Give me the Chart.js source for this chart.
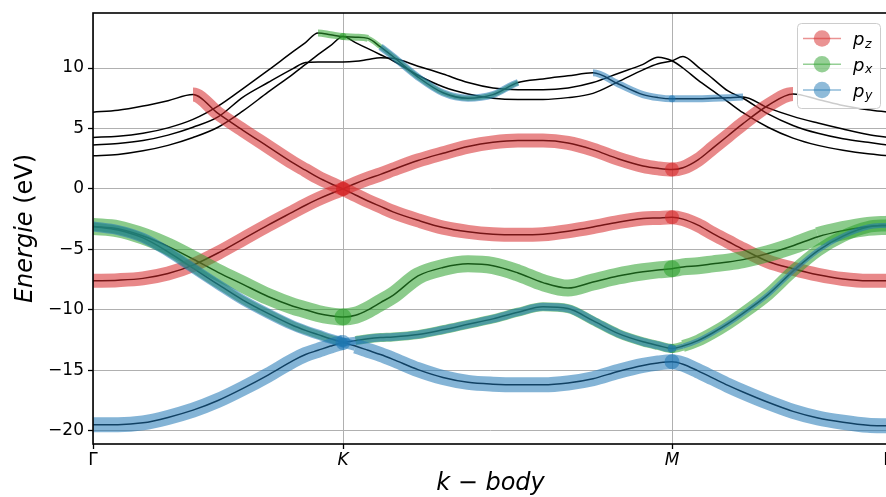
<!DOCTYPE html>
<html>
<head>
<meta charset="utf-8">
<script src="https://cdn.jsdelivr.net/npm/chart.js@4.4.0/dist/chart.umd.min.js"></script>
<style>
    html, body { margin: 0; padding: 0; background: #fff; overflow: hidden; }
    #wrap { width: 886px; height: 497px; overflow: hidden; }
    canvas { display: block; }
</style>
</head>
<body>
<div id="wrap"><canvas id="bands" width="892" height="497"></canvas></div>
<script>
// k-path (Γ-K = 1), one shared grid for all bands
const kPath = [0, 0.1, 0.2, 0.3, 0.4, 0.5, 0.6, 0.7, 0.8, 0.85, 0.9, 0.95, 1.0,
    1.05, 1.1, 1.15, 1.2, 1.3, 1.4, 1.5, 1.6, 1.7, 1.8, 1.9, 2.0, 2.1, 2.2, 2.26, 2.316,
    2.36, 2.42, 2.48, 2.54, 2.6, 2.7, 2.8, 2.9, 3.0, 3.1, 3.18];
const kTicks = [0, 1.0, 2.316, 3.18];
const kLabels = ['Γ', 'K', 'M', 'Γ'];
const energyTicks = [-20, -15, -10, -5, 0, 5, 10];

// band energies (eV)
const eRedLow = [-7.6, -7.55, -7.4, -7.0, -6.3, -5.3, -4.15, -3.0, -1.9, -1.35, -0.85, -0.4, 0,
    0.45, 0.85, 1.2, 1.6, 2.35, 2.95, 3.5, 3.85, 4.0, 4.0, 3.8, 3.25, 2.5, 1.9, 1.7, 1.6,
    1.75, 2.4, 3.4, 4.4, 5.4, 6.9, 7.85, 7.4, 6.9, 6.55, 6.35];
const eRedUp = [6.35, 6.5, 6.85, 7.3, 7.8, 6.25, 4.85, 3.5, 2.15, 1.55, 0.95, 0.45, 0,
    -0.5, -1.0, -1.45, -1.9, -2.6, -3.2, -3.55, -3.75, -3.8, -3.75, -3.5, -3.15, -2.75, -2.45, -2.4, -2.35,
    -2.5, -3.0, -3.7, -4.35, -5.0, -6.0, -6.6, -7.1, -7.45, -7.6, -7.6];
const eGreen = [-3.1, -3.3, -3.9, -4.75, -5.8, -6.9, -7.9, -8.9, -9.7, -10.0, -10.3, -10.5, -10.6,
    -10.45, -10.0, -9.4, -8.8, -7.2, -6.5, -6.2, -6.35, -6.95, -7.75, -8.2, -7.7, -7.2, -6.85, -6.7, -6.6,
    -6.45, -6.35, -6.2, -6.05, -5.85, -5.35, -4.7, -3.95, -3.45, -3.1, -3.0];
const eLow1 = [-19.5, -19.5, -19.35, -18.9, -18.3, -17.5, -16.5, -15.4, -14.2, -13.7, -13.35, -13.0, -12.7,
    -12.55, -12.4, -12.3, -12.25, -12.05, -11.65, -11.2, -10.75, -10.2, -9.75, -9.9, -10.9, -11.95, -12.65, -12.95, -13.2,
    -13.0, -12.55, -11.9, -11.15, -10.3, -8.75, -6.8, -5.1, -3.9, -3.15, -3.0];
const eLow2 = [-3.1, -3.4, -4.05, -5.2, -6.55, -7.9, -9.2, -10.3, -11.3, -11.7, -12.05, -12.4, -12.7,
    -13.0, -13.35, -13.7, -14.1, -14.95, -15.6, -16.0, -16.15, -16.2, -16.2, -16.05, -15.7, -15.1, -14.6, -14.4, -14.3,
    -14.5, -15.05, -15.65, -16.25, -16.8, -17.65, -18.4, -18.95, -19.3, -19.55, -19.6];
const eUp1 = [4.26, 4.35, 4.6, 5.05, 5.75, 6.85, 8.3, 9.8, 11.35, 12.1, 12.9, 12.75, 12.6,
    12.55, 12.45, 11.75, 10.95, 9.25, 7.95, 7.5, 7.8, 8.8, 9.1, 9.35, 9.6, 8.7, 7.8, 7.55, 7.45,
    7.45, 7.45, 7.5, 7.55, 7.6, 6.7, 6.0, 5.45, 4.95, 4.5, 4.26];
const eUp2 = [3.63, 3.75, 4.0, 4.45, 5.1, 5.95, 7.6, 8.8, 9.95, 10.45, 10.5, 10.5, 10.5,
    10.55, 10.7, 10.85, 10.8, 10.15, 9.5, 8.8, 8.35, 8.2, 8.2, 8.35, 8.8, 9.55, 10.3, 10.9, 10.6,
    10.0, 9.0, 8.1, 7.2, 6.3, 5.1, 4.2, 3.6, 3.2, 2.9, 2.74];
const eUp3 = [2.74, 2.85, 3.15, 3.6, 4.25, 5.1, 6.45, 8.0, 9.5, 10.3, 11.1, 11.85, 12.6,
    12.1, 11.6, 11.1, 10.6, 9.4, 8.45, 7.85, 7.5, 7.4, 7.4, 7.55, 7.9, 8.85, 9.85, 10.35, 10.6,
    10.95, 10.1, 9.1, 8.1, 7.5, 6.2, 5.25, 4.6, 4.15, 3.85, 3.63];

// orbital weights (0..1) per band
const wRedLowPz = [0.7, 0.7, 0.7, 0.7, 0.7, 0.7, 0.7, 0.7, 0.7, 0.7, 0.7, 0.7, 0.7,
    0.7, 0.7, 0.7, 0.7, 0.7, 0.7, 0.7, 0.7, 0.7, 0.7, 0.7, 0.7, 0.7, 0.7, 0.7, 0.7,
    0.7, 0.7, 0.7, 0.7, 0.7, 0.7, 0.7, 0, 0, 0, 0];
const wRedUpPz = [0, 0, 0, 0, 0.7, 0.7, 0.7, 0.7, 0.7, 0.7, 0.7, 0.7, 0.7,
    0.7, 0.7, 0.7, 0.7, 0.7, 0.7, 0.7, 0.7, 0.7, 0.7, 0.7, 0.7, 0.7, 0.7, 0.7, 0.7,
    0.7, 0.7, 0.7, 0.7, 0.7, 0.7, 0.7, 0.7, 0.7, 0.7, 0.7];
const wGreenPx = [0.85, 0.85, 0.85, 0.85, 0.85, 0.85, 0.85, 0.85, 0.85, 0.85, 0.85, 0.85, 0.85,
    0.85, 0.85, 0.85, 0.85, 0.85, 0.85, 0.85, 0.85, 0.85, 0.85, 0.85, 0.85, 0.85, 0.85, 0.85, 0.85,
    0.85, 0.85, 0.85, 0.85, 0.85, 0.85, 0.85, 0.95, 0.95, 0.95, 0.95];
const wLow1Px = [0, 0, 0, 0, 0, 0, 0, 0, 0, 0, 0, 0, 0,
    0.45, 0.45, 0.45, 0.45, 0.45, 0.45, 0.45, 0.45, 0.45, 0.45, 0.45, 0.45, 0.45, 0.45, 0.45, 0.45,
    0.6, 0.6, 0.6, 0.6, 0.6, 0.6, 0.6, 0.6, 0.6, 0.6, 0.6];
const wLow1Py = [0.75, 0.75, 0.75, 0.75, 0.75, 0.75, 0.75, 0.75, 0.75, 0.75, 0.75, 0.75, 0.75,
    0.4, 0.4, 0.4, 0.4, 0.4, 0.4, 0.4, 0.4, 0.4, 0.4, 0.4, 0.4, 0.4, 0.4, 0.4, 0.4,
    0.25, 0.25, 0.25, 0.25, 0.25, 0.25, 0.25, 0.25, 0.25, 0.25, 0.25];
const wLow2Px = [0.4, 0.4, 0.4, 0.4, 0.4, 0.4, 0.4, 0.4, 0.4, 0.4, 0.4, 0.4, 0.4,
    0, 0, 0, 0, 0, 0, 0, 0, 0, 0, 0, 0, 0, 0, 0, 0,
    0, 0, 0, 0, 0, 0, 0, 0, 0, 0, 0];
const wLow2Py = [0.5, 0.5, 0.5, 0.5, 0.5, 0.5, 0.5, 0.5, 0.5, 0.5, 0.5, 0.5, 0.5,
    0.75, 0.75, 0.75, 0.75, 0.75, 0.75, 0.75, 0.75, 0.75, 0.75, 0.75, 0.75, 0.75, 0.75, 0.75, 0.75,
    0.75, 0.75, 0.75, 0.75, 0.75, 0.75, 0.75, 0.75, 0.75, 0.75, 0.75];
const wUp1Px = [0, 0, 0, 0, 0, 0, 0, 0, 0, 0, 0.35, 0.35, 0.35,
    0.35, 0.35, 0.25, 0.25, 0.25, 0.25, 0.25, 0.25, 0.25, 0, 0, 0, 0, 0, 0, 0,
    0, 0, 0, 0, 0, 0, 0, 0, 0, 0, 0];
const wUp1Py = [0, 0, 0, 0, 0, 0, 0, 0, 0, 0, 0, 0, 0,
    0, 0, 0.35, 0.35, 0.35, 0.35, 0.35, 0.35, 0.35, 0, 0, 0.35, 0.35, 0.35, 0.35, 0.35,
    0.35, 0.35, 0.35, 0.35, 0.35, 0, 0, 0, 0, 0, 0];

const orbitalSubs = ['z', 'x', 'y'];

const FAT = 20; // px per unit weight
const RED = 'rgba(214, 39, 40, 0.55)';
const GREEN = 'rgba(44, 160, 44, 0.55)';
const BLUE = 'rgba(31, 119, 180, 0.55)';
const LEGEND_COLORS = ['rgba(214, 39, 40, 0.5)', 'rgba(44, 160, 44, 0.5)', 'rgba(31, 119, 180, 0.5)'];

const symIdx = [kPath.indexOf(kTicks[1]), kPath.indexOf(kTicks[2])];

function toPoints(energy) {
    return kPath.map((k, i) => ({ x: k, y: energy[i] }));
}

function bandLine(energy) {
    return {
        data: toPoints(energy),
        order: 10,
        borderColor: '#000',
        borderWidth: 1.5,
        pointRadius: 0,
        cubicInterpolationMode: 'monotone',
    };
}

// projected (fat) band: stroke width follows the orbital weight
function fatBand(energy, weight, color, order) {
    const segW = (ctx) => Math.min(weight[ctx.p0DataIndex], weight[ctx.p1DataIndex]);
    return {
        data: toPoints(energy),
        order: order,
        borderWidth: 1,
        borderColor: color,
        backgroundColor: color,
        cubicInterpolationMode: 'monotone',
        pointBorderWidth: 0,
        pointBackgroundColor: color,
        pointRadius: (ctx) => (symIdx.includes(ctx.dataIndex) ? weight[ctx.dataIndex] * FAT / 2 : 0),
        segment: {
            borderWidth: (ctx) => segW(ctx) * FAT || 1,
            borderColor: (ctx) => (segW(ctx) > 0 ? color : 'rgba(0,0,0,0)'),
        },
    };
}

function drawRuns(ctx, runs, cx, baseline) {
    let total = 0;
    runs.forEach((r) => {
        ctx.font = r.font;
        r.w = ctx.measureText(r.text).width;
        total += r.w;
    });
    let x = cx - total / 2;
    ctx.textAlign = 'left';
    ctx.textBaseline = 'alphabetic';
    runs.forEach((r) => {
        ctx.font = r.font;
        ctx.fillText(r.text, x, baseline);
        x += r.w;
    });
}

const decorations = {
    id: 'decorations',
    afterDraw: (chart) => {
        const { ctx, chartArea } = chart;
        const { left, right, top, bottom } = chartArea;
        ctx.save();

        // axes frame
        ctx.strokeStyle = '#000';
        ctx.lineWidth = 1.6;
        ctx.strokeRect(left, top, right - left, bottom - top);

        // axis titles
        ctx.fillStyle = '#000';
        const it = 'italic 24px "DejaVu Sans"';
        const up = '24px "DejaVu Sans"';
        drawRuns(ctx, [{ text: 'k', font: it }, { text: ' \u2212 ', font: up }, { text: 'body', font: it }],
            (left + right) / 2, 490);
        ctx.save();
        ctx.translate(32, (top + bottom) / 2);
        ctx.rotate(-Math.PI / 2);
        drawRuns(ctx, [{ text: 'Energie', font: it }, { text: ' (eV)', font: up }], 0, 0);
        ctx.restore();

        // legend
        ctx.beginPath();
        ctx.roundRect(797.5, 23.5, 83, 85, 4);
        ctx.fillStyle = 'rgba(255,255,255,0.8)';
        ctx.fill();
        ctx.strokeStyle = '#cccccc';
        ctx.lineWidth = 1;
        ctx.stroke();
        orbitalSubs.forEach((sub, i) => {
            const y = 38.5 + i * 25.75;
            ctx.strokeStyle = LEGEND_COLORS[i];
            ctx.lineWidth = 1.5;
            ctx.beginPath();
            ctx.moveTo(803, y);
            ctx.lineTo(841, y);
            ctx.stroke();
            ctx.fillStyle = LEGEND_COLORS[i];
            ctx.beginPath();
            ctx.arc(822, y, 8.3, 0, Math.PI * 2);
            ctx.fill();
            ctx.fillStyle = '#000';
            ctx.textAlign = 'left';
            ctx.textBaseline = 'alphabetic';
            ctx.font = 'italic 18px "DejaVu Sans"';
            ctx.fillText('p', 853, y + 6.5);
            const pw = ctx.measureText('p').width;
            ctx.font = 'italic 12.5px "DejaVu Sans"';
            ctx.fillText(sub, 853 + pw + 0.5, y + 9);
        });
        ctx.restore();
    },
};

Chart.defaults.font.family = '"DejaVu Sans"';
Chart.defaults.color = '#000';

const datasets = [
    bandLine(eRedLow), bandLine(eRedUp), bandLine(eGreen), bandLine(eLow1),
    bandLine(eLow2), bandLine(eUp1), bandLine(eUp2), bandLine(eUp3),
    fatBand(eRedLow, wRedLowPz, RED, 3),
    fatBand(eRedUp, wRedUpPz, RED, 3),
    fatBand(eGreen, wGreenPx, GREEN, 2),
    fatBand(eLow1, wLow1Px, GREEN, 2),
    fatBand(eLow2, wLow2Px, GREEN, 2),
    fatBand(eUp1, wUp1Px, GREEN, 2),
    fatBand(eLow1, wLow1Py, BLUE, 1),
    fatBand(eLow2, wLow2Py, BLUE, 1),
    fatBand(eUp1, wUp1Py, BLUE, 1),
];

const gridStyle = {
    color: '#b0b0b0',
    lineWidth: 1,
    tickColor: '#000',
    tickLength: 5,
    tickWidth: 1.3,
};

new Chart(document.getElementById('bands'), {
    type: 'line',
    data: { datasets: datasets },
    options: {
        responsive: false,
        devicePixelRatio: 1,
        animation: false,
        events: [],
        layout: { padding: { top: 13, right: 4, bottom: 0, left: 0 } },
        plugins: { legend: { display: false }, tooltip: { enabled: false } },
        scales: {
            x: {
                type: 'linear',
                min: kTicks[0],
                max: kTicks[kTicks.length - 1],
                afterBuildTicks: (scale) => {
                    scale.ticks = kTicks.map((v) => ({ value: v }));
                },
                afterFit: (scale) => {
                    scale.height = 53;
                    scale.paddingLeft = 0;
                    scale.paddingRight = 0;
                },
                ticks: {
                    autoSkip: false,
                    maxRotation: 0,
                    padding: 1,
                    color: '#000',
                    callback: (value, index) => kLabels[index],
                    font: (ctx) => ({
                        family: '"DejaVu Sans"',
                        size: 17,
                        style: ctx.index === 0 || ctx.index === kTicks.length - 1 ? 'normal' : 'italic',
                    }),
                },
                grid: gridStyle,
                border: { display: false },
            },
            y: {
                type: 'linear',
                min: -21.1,
                max: 14.55,
                afterBuildTicks: (scale) => {
                    scale.ticks = energyTicks.map((v) => ({ value: v }));
                },
                afterFit: (scale) => {
                    scale.width = 93;
                    scale.paddingTop = 0;
                    scale.paddingBottom = 0;
                },
                ticks: {
                    padding: 4,
                    color: '#000',
                    font: { family: '"DejaVu Sans"', size: 17 },
                    callback: (value) => (value < 0 ? '\u2212' + Math.abs(value) : String(value)),
                },
                grid: gridStyle,
                border: { display: false },
            },
        },
    },
    plugins: [decorations],
});
</script>
</body>
</html>
